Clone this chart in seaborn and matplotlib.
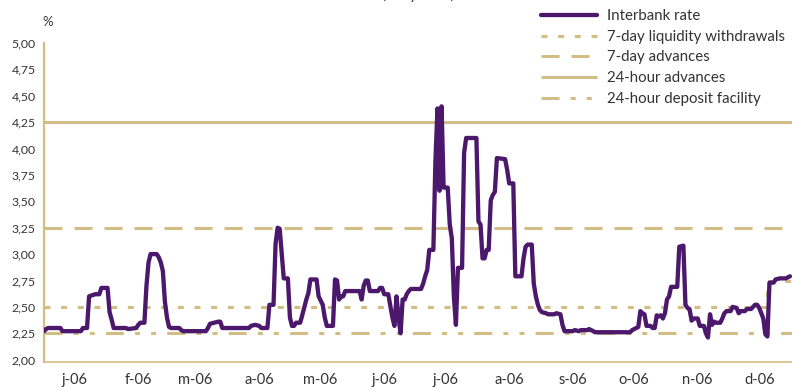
import pandas as pd
import numpy as np
import matplotlib
matplotlib.use("Agg")
import matplotlib.pyplot as plt
import matplotlib.dates as mdates
from matplotlib.ticker import FuncFormatter, FixedLocator
import seaborn as sns

# interbank rate (day of year 2006, %)
ib_days = [0, 1, 2, 8, 9, 18, 19, 21, 22, 25, 27, 28, 31, 32, 33, 34, 40, 41, 45, 46,
           47, 49, 50, 51, 52, 55, 56, 57, 58, 59, 60, 61, 62, 66, 67, 68, 79, 80, 81, 83,
           85, 86, 87, 100, 101, 103, 105, 106, 109, 110, 112, 113, 114, 115, 116, 117, 119, 120, 121, 122,
           123, 125, 126, 128, 129, 130, 133, 134, 135, 136, 137, 138, 141, 142, 143, 144, 145, 146, 147, 154,
           155, 156, 157, 158, 159, 163, 164, 165, 166, 168, 169, 170, 171, 172, 173, 174, 175, 176, 177, 178,
           179, 184, 185, 186, 187, 188, 190, 191, 192, 193, 194, 195, 197, 198, 199, 200, 201, 202, 204, 205,
           206, 211, 212, 213, 214, 215, 216, 217, 218, 219, 220, 221, 225, 226, 227, 229, 230, 233, 234, 235,
           236, 238, 239, 240, 241, 242, 243, 245, 246, 249, 250, 252, 253, 254, 258, 259, 261, 262, 265, 266,
           267, 269, 286, 287, 289, 290, 291, 292, 293, 294, 296, 297, 298, 299, 300, 301, 302, 303, 304, 305,
           306, 309, 310, 312, 313, 314, 315, 316, 317, 319, 320, 322, 323, 324, 325, 326, 327, 328, 330, 331,
           332, 333, 335, 336, 338, 339, 340, 342, 343, 345, 346, 347, 348, 349, 350, 351, 352, 353, 354, 356,
           357, 359, 362, 364]
ib_rate = [2.27, 2.29, 2.30, 2.30, 2.27, 2.27, 2.30, 2.30, 2.60, 2.62, 2.62, 2.68, 2.68, 2.45, 2.38, 2.30, 2.30, 2.29, 2.30, 2.33,
           2.35, 2.35, 2.70, 2.92, 3.00, 3.00, 2.97, 2.92, 2.84, 2.55, 2.40, 2.31, 2.30, 2.30, 2.28, 2.27, 2.27, 2.30, 2.34, 2.35,
           2.36, 2.36, 2.30, 2.30, 2.32, 2.33, 2.32, 2.30, 2.30, 2.52, 2.52, 3.10, 3.25, 3.24, 3.00, 2.77, 2.77, 2.40, 2.32, 2.32,
           2.35, 2.35, 2.42, 2.57, 2.63, 2.76, 2.76, 2.60, 2.56, 2.52, 2.40, 2.32, 2.32, 2.76, 2.75, 2.57, 2.60, 2.60, 2.65, 2.65,
           2.57, 2.70, 2.75, 2.75, 2.65, 2.65, 2.68, 2.68, 2.62, 2.62, 2.51, 2.40, 2.32, 2.60, 2.40, 2.25, 2.57, 2.57, 2.62, 2.65,
           2.67, 2.67, 2.72, 2.79, 2.85, 3.04, 3.04, 3.88, 4.38, 3.60, 4.40, 3.63, 3.63, 3.28, 3.15, 2.60, 2.33, 2.87, 2.87, 3.96,
           4.10, 4.10, 3.31, 3.28, 2.96, 2.96, 3.04, 3.04, 3.51, 3.56, 3.59, 3.91, 3.90, 3.80, 3.67, 3.67, 2.79, 2.79, 2.96, 3.07,
           3.09, 3.09, 2.72, 2.60, 2.52, 2.47, 2.45, 2.44, 2.43, 2.43, 2.44, 2.43, 2.33, 2.27, 2.27, 2.28, 2.27, 2.28, 2.28, 2.29,
           2.28, 2.26, 2.26, 2.28, 2.30, 2.31, 2.46, 2.44, 2.43, 2.32, 2.32, 2.30, 2.30, 2.42, 2.41, 2.42, 2.39, 2.44, 2.57, 2.60,
           2.69, 2.69, 3.07, 3.08, 2.52, 2.49, 2.48, 2.37, 2.39, 2.39, 2.32, 2.32, 2.25, 2.21, 2.43, 2.33, 2.36, 2.35, 2.35, 2.39,
           2.44, 2.46, 2.46, 2.50, 2.49, 2.44, 2.46, 2.46, 2.48, 2.48, 2.50, 2.52, 2.52, 2.49, 2.44, 2.39, 2.24, 2.22, 2.73, 2.73,
           2.76, 2.77, 2.77, 2.79]

# official rates (step changes)
liq_days = [0, 353, 365]
liq_rate = [2.50, 2.75, 2.75]
adv7_days = [0, 365]
adv7_rate = [3.25, 3.25]
adv24_days = [0, 365]
adv24_rate = [4.25, 4.25]
dep_days = [0, 365]
dep_rate = [2.25, 2.25]

month_labels = ["j-06", "f-06", "m-06", "a-06", "m-06", "j-06",
                "j-06", "a-06", "s-06", "o-06", "n-06", "d-06"]

PURPLE = "#4B186C"
GOLD = "#D4BD85"
TXT = "#333333"

start = pd.Timestamp("2006-01-01")


def to_dates(days):
    return start + pd.to_timedelta(days, unit="D")


sns.set_style("white")
plt.rcParams["font.family"] = ["Lato", "DejaVu Sans"]
plt.rcParams["lines.scale_dashes"] = False

fig = plt.figure(figsize=(7.92, 3.88), dpi=100)
ax = fig.add_axes([44 / 792, 1 - 362 / 388, 1 - 44 / 792, (362 - 43) / 388])

ib_df = pd.DataFrame({"date": to_dates(ib_days), "rate": ib_rate})

series = [
    ("7-day liquidity withdrawals", liq_days, liq_rate, (0, (4.3, 7.7)), 2.2),
    ("7-day advances", adv7_days, adv7_rate, (0, (13, 8.6)), 2.2),
    ("24-hour advances", adv24_days, adv24_rate, None, 2.2),
    ("24-hour deposit facility", dep_days, dep_rate, (0, (13, 8, 3.6, 8, 3.6, 8)), 2.2),
]

handles = {}
for name, d, r, ls, lw in series:
    df = pd.DataFrame({"date": to_dates(d), "rate": r})
    sns.lineplot(data=df, x="date", y="rate", ax=ax, color=GOLD, linewidth=lw,
                 drawstyle="steps-post", estimator=None, zorder=2)
    line = ax.lines[-1]
    if ls is not None:
        line.set_linestyle(ls)
    line.set_solid_capstyle("butt")
    line.set_dash_capstyle("butt")
    handles[name] = line

sns.lineplot(data=ib_df, x="date", y="rate", ax=ax, color=PURPLE, linewidth=3.1,
             estimator=None, zorder=3)
handles["Interbank rate"] = ax.lines[-1]

ax.set_xlim(start, pd.Timestamp("2007-01-01"))
ax.set_ylim(1.978, 5.0)
ax.set_xlabel("")
ax.set_ylabel("")

# y axis
ax.yaxis.set_major_locator(FixedLocator(np.arange(2.0, 5.01, 0.25)))
ax.yaxis.set_major_formatter(FuncFormatter(lambda v, p: f"{v:.2f}".replace(".", ",")))
ax.tick_params(axis="y", which="major", direction="out", length=4, width=1.5,
               color=GOLD, labelsize=8.8, labelcolor=TXT, pad=2)

# x axis: month boundaries as ticks, labels mid-month
ax.xaxis.set_major_locator(mdates.MonthLocator())
ax.xaxis.set_major_formatter(FuncFormatter(lambda v, p: ""))
ax.xaxis.set_minor_locator(mdates.MonthLocator(bymonthday=16))
ax.xaxis.set_minor_formatter(FuncFormatter(
    lambda v, p: month_labels[mdates.num2date(v).month - 1]))
ax.tick_params(axis="x", which="major", direction="out", length=5, width=1.5, color=GOLD)
ax.tick_params(axis="x", which="minor", length=0, labelsize=10.5, labelcolor=TXT, pad=8)

for side in ["top", "right"]:
    ax.spines[side].set_visible(False)
ax.spines["left"].set_color(GOLD)
ax.spines["left"].set_linewidth(1.6)
ax.spines["bottom"].set_color(GOLD)
ax.spines["bottom"].set_linewidth(1.2)
ax.grid(False)

fig.text(48 / 792, 1 - 22 / 388, "%", ha="center", va="center", fontsize=9.5, color=TXT)
# title sits above the visible area, only its lowest strokes show
fig.text(418 / 792, 1 + 1 / 388, "(daily data)", ha="center", va="baseline", fontsize=11, color=TXT)

order = ["Interbank rate", "7-day liquidity withdrawals", "7-day advances",
         "24-hour advances", "24-hour deposit facility"]
fig.legend([handles[k] for k in order], order, loc="upper left",
           bbox_to_anchor=(541 / 792, 1 - 9 / 388), frameon=False, fontsize=10.8,
           handlelength=3.7, handletextpad=0.7, labelspacing=0.45,
           borderaxespad=0, borderpad=0, labelcolor=TXT)

fig.savefig("out.png", dpi=100)
